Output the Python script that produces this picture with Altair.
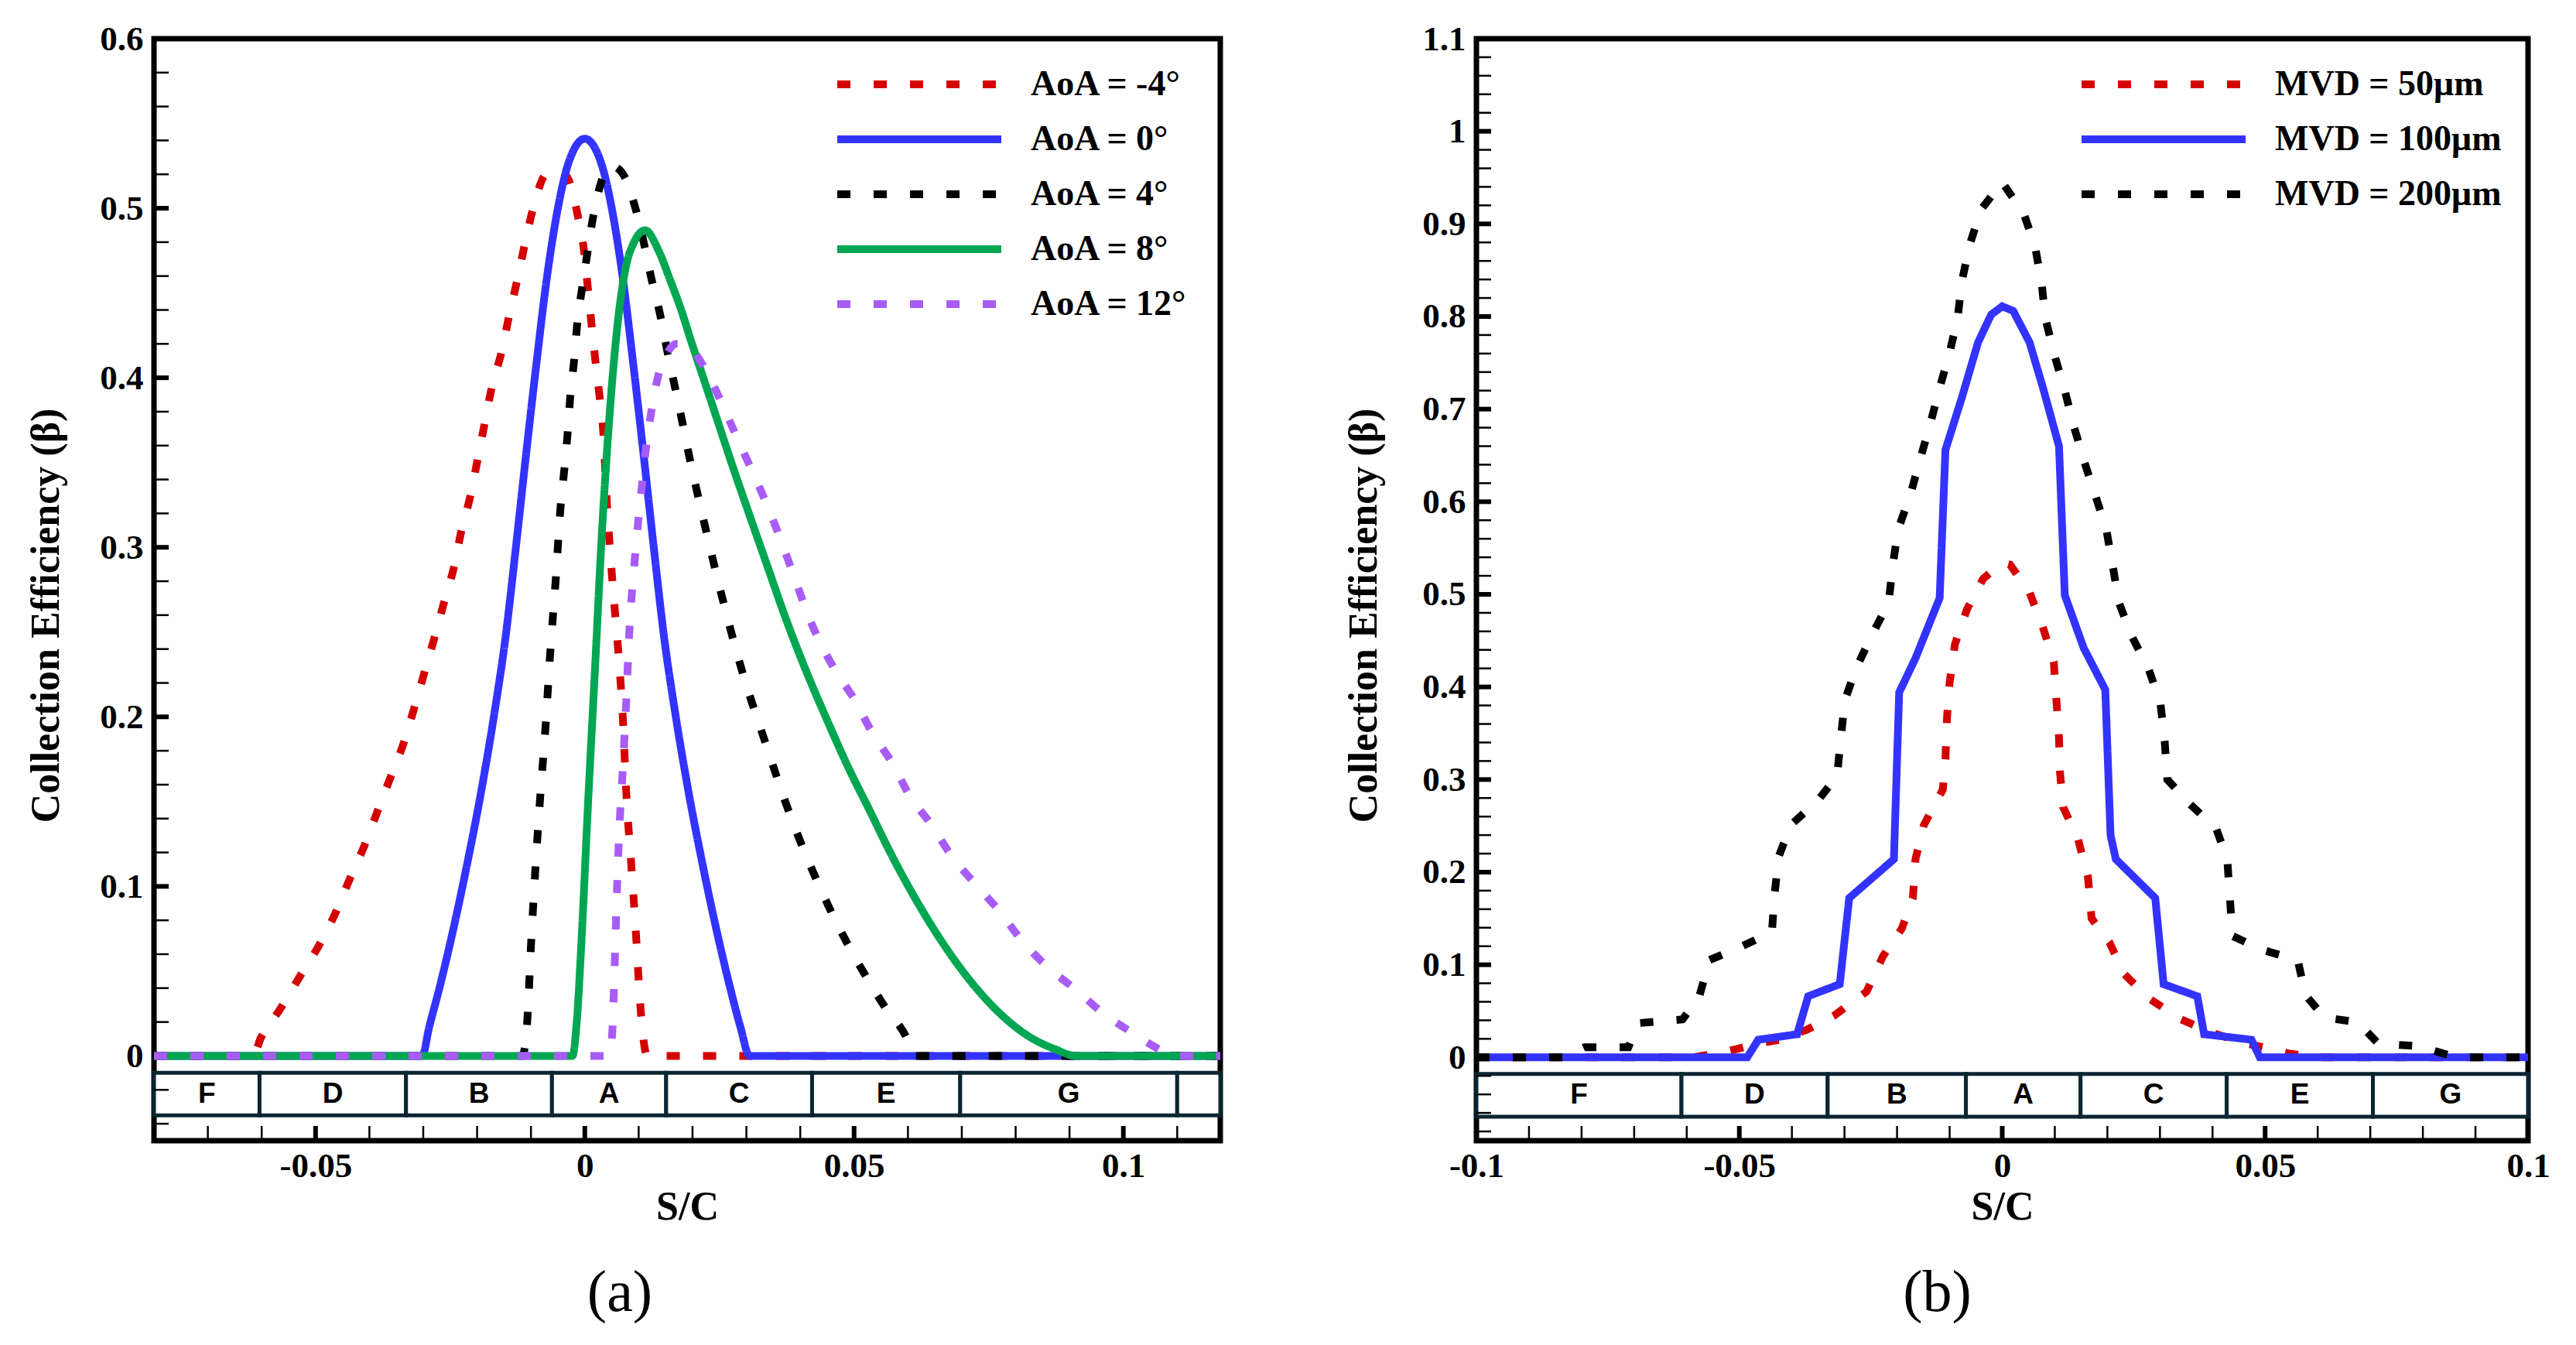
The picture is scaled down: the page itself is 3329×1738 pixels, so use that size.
import altair as alt
import pandas as pd

SERIF = "Liberation Serif"
SANS = "Liberation Sans"
BAND_COLOR = "#0b2632"
DOT = [17, 30]
SOLID = [1, 0]

# ---------------- panel (a): angle of attack ----------------
AOA_NAMES = ["AoA = -4°", "AoA = 0°", "AoA = 4°", "AoA = 8°", "AoA = 12°"]
AOA_COLORS = ["#d40000", "#3333ff", "#000000", "#00a651", "#a85cf6"]
AOA_DASHES = [DOT, SOLID, DOT, SOLID, DOT]

aoa_m4_x = [-0.08, -0.0617, -0.0601, -0.0565, -0.0527, -0.0494, -0.0462, -0.0437, -0.0408, -0.0383,
            -0.0360, -0.0337, -0.0317, -0.0298, -0.0279, -0.0261, -0.0244, -0.0229, -0.0212, -0.0199,
            -0.0186, -0.0173, -0.0154, -0.0141, -0.0126, -0.0112, -0.0096, -0.0073, -0.0052, -0.0032,
            -0.0014, -0.0002, 0.0005, 0.0012, 0.0019, 0.0027, 0.0034, 0.0041, 0.0051, 0.0062,
            0.0071, 0.0077, 0.0086, 0.0095, 0.0103, 0.0116, 0.118]
aoa_m4_y = [0, 0, 0.011, 0.028, 0.048, 0.065, 0.085, 0.104, 0.125, 0.146,
            0.165, 0.184, 0.205, 0.226, 0.247, 0.268, 0.287, 0.310, 0.331, 0.352,
            0.373, 0.394, 0.416, 0.436, 0.457, 0.478, 0.500, 0.520, 0.523, 0.518,
            0.497, 0.476, 0.455, 0.433, 0.412, 0.390, 0.369, 0.326, 0.281, 0.239,
            0.197, 0.155, 0.114, 0.072, 0.030, 0, 0]

aoa_0_x = [-0.08, -0.0302, -0.0289, -0.0270, -0.0244, -0.0218, -0.0193, -0.0167, -0.0148, -0.0128,
           -0.0109, -0.0090, -0.0070, -0.0050, -0.0030, 0.0,
           0.0030, 0.0050, 0.0070, 0.0090, 0.0109, 0.0128, 0.0148, 0.0167, 0.0193, 0.0218,
           0.0244, 0.0270, 0.0289, 0.0306, 0.118]
aoa_0_y = [0, 0, 0.017, 0.040, 0.075, 0.114, 0.155, 0.204, 0.245, 0.300,
           0.355, 0.408, 0.460, 0.500, 0.527, 0.541,
           0.527, 0.500, 0.460, 0.408, 0.355, 0.300, 0.245, 0.204, 0.155, 0.114,
           0.075, 0.040, 0.017, 0, 0]

aoa_4_x = [-0.08, -0.0116, -0.0107, -0.0100, -0.0092, -0.0083, -0.0073, -0.0064, -0.0054, -0.0045,
           -0.0038, -0.0032, -0.0027, -0.0020, -0.0014, -0.0005, 0.0005, 0.0016, 0.0032, 0.0050,
           0.0069, 0.0094, 0.0110, 0.0124, 0.0140, 0.0153, 0.0167, 0.0181, 0.0195, 0.0209,
           0.0225, 0.0257, 0.0293, 0.0334, 0.0379, 0.0430, 0.0488, 0.0520, 0.0559, 0.0597,
           0.0612, 0.118]
aoa_4_y = [0, 0, 0.020, 0.065, 0.109, 0.152, 0.194, 0.239, 0.281, 0.324,
           0.346, 0.367, 0.389, 0.410, 0.432, 0.453, 0.474, 0.496, 0.517, 0.525,
           0.521, 0.500, 0.479, 0.458, 0.437, 0.416, 0.395, 0.374, 0.352, 0.332,
           0.310, 0.268, 0.226, 0.186, 0.144, 0.104, 0.066, 0.048, 0.028, 0.011,
           0, 0]

aoa_8_x = [-0.08, -0.0023, -0.0015, -0.0006, 0.0006, 0.0019, 0.0032, 0.0045, 0.0058, 0.0068,
           0.0078, 0.0090, 0.0112, 0.0137, 0.0158, 0.0179, 0.0197, 0.0220, 0.0243, 0.0270,
           0.0308, 0.0340, 0.0372, 0.0411, 0.0450, 0.0488, 0.0527, 0.0572, 0.0617, 0.0668,
           0.0719, 0.0771, 0.0822, 0.0873, 0.0912, 0.118]
aoa_8_y = [0, 0, 0.020, 0.069, 0.149, 0.229, 0.310, 0.374, 0.423, 0.450,
           0.468, 0.479, 0.487, 0.475, 0.458, 0.440, 0.422, 0.400, 0.378, 0.352,
           0.317, 0.288, 0.259, 0.227, 0.198, 0.171, 0.146, 0.117, 0.091, 0.065,
           0.043, 0.025, 0.012, 0.004, 0, 0]

aoa_12_x = [-0.08, 0.0045, 0.0051, 0.0055, 0.0059, 0.0064, 0.0071, 0.0077, 0.0083, 0.0092,
            0.0100, 0.0107, 0.0113, 0.0124, 0.0137, 0.0152, 0.0170, 0.0190, 0.0220, 0.0250,
            0.0278, 0.0305, 0.0333, 0.0357, 0.0385, 0.0417, 0.0462, 0.0501, 0.0533, 0.0572,
            0.0604, 0.0642, 0.0681, 0.0726, 0.0771, 0.0809, 0.0861, 0.0912, 0.0963, 0.1015,
            0.1066, 0.1092, 0.118]
aoa_12_y = [0, 0, 0.014, 0.049, 0.091, 0.133, 0.172, 0.210, 0.252, 0.290,
            0.318, 0.339, 0.357, 0.381, 0.402, 0.414, 0.420, 0.419, 0.407, 0.388,
            0.368, 0.349, 0.329, 0.310, 0.286, 0.258, 0.229, 0.210, 0.191, 0.172,
            0.153, 0.137, 0.118, 0.101, 0.085, 0.069, 0.052, 0.039, 0.025, 0.014,
            0.004, 0, 0]

A_XMAJOR = [-0.05, 0, 0.05, 0.1]
A_XMINOR = [-0.07, -0.06, -0.04, -0.03, -0.02, -0.01, 0.01, 0.02, 0.03, 0.04,
            0.06, 0.07, 0.08, 0.09, 0.11]
A_YMAJOR = [0, 0.1, 0.2, 0.3, 0.4, 0.5]
A_YMINOR = [-0.04, -0.02, 0.02, 0.04, 0.06, 0.08, 0.12, 0.14, 0.16, 0.18, 0.22, 0.24, 0.26, 0.28,
            0.32, 0.34, 0.36, 0.38, 0.42, 0.44, 0.46, 0.48, 0.52, 0.54, 0.56, 0.58]
A_YLABELS = [0, 0.1, 0.2, 0.3, 0.4, 0.5, 0.6]
A_ZONE_EDGES = [-0.08, -0.0604, -0.0332, -0.0061, 0.0151, 0.0422, 0.0697, 0.1100, 0.118]
A_ZONES = ["F", "D", "B", "A", "C", "E", "G", ""]

# ---------------- panel (b): droplet size ----------------
MVD_NAMES = ["MVD = 50μm", "MVD = 100μm", "MVD = 200μm"]
MVD_COLORS = ["#d40000", "#3333ff", "#000000"]
MVD_DASHES = [DOT, SOLID, DOT]

mvd50_x = [-0.1, -0.0588, -0.0546, -0.0505, -0.0464, -0.0423, -0.0371, -0.0320, -0.0258, -0.0227,
           -0.0191, -0.0170, -0.0165, -0.0149, -0.0113, -0.0108, -0.0105, -0.0100, -0.0090, -0.0067,
           -0.0036, 0.0, 0.0015, 0.0052, 0.0077, 0.0098, 0.0103, 0.0108, 0.0110, 0.0116,
           0.0144, 0.0163, 0.0170, 0.0204, 0.0232, 0.0278, 0.0340, 0.0402, 0.0464, 0.0495,
           0.0546, 0.0600, 0.1]
mvd50_y = [0, 0, 0.004, 0.009, 0.015, 0.019, 0.030, 0.045, 0.071, 0.109,
           0.139, 0.172, 0.214, 0.251, 0.289, 0.322, 0.367, 0.405, 0.446, 0.484,
           0.517, 0.534, 0.532, 0.502, 0.465, 0.427, 0.386, 0.345, 0.307, 0.270,
           0.236, 0.195, 0.150, 0.124, 0.090, 0.064, 0.041, 0.026, 0.015, 0.011,
           0.004, 0, 0]

mvd100_x = [-0.1, -0.0485, -0.0464, -0.0390, -0.0369, -0.0309, -0.0291, -0.0206, -0.0196, -0.0165,
            -0.0119, -0.0108, -0.0077, -0.0046, -0.0021, 0.0, 0.0021, 0.0052, 0.0077, 0.0108,
            0.0119, 0.0155, 0.0196, 0.0206, 0.0216, 0.0291, 0.0307, 0.0371, 0.0384, 0.0474,
            0.0490, 0.1]
mvd100_y = [0, 0, 0.019, 0.025, 0.066, 0.079, 0.172, 0.214, 0.394, 0.431,
            0.496, 0.656, 0.712, 0.772, 0.802, 0.811, 0.806, 0.772, 0.724, 0.660,
            0.499, 0.442, 0.397, 0.240, 0.214, 0.172, 0.079, 0.066, 0.025, 0.019,
            0, 0]

mvd200_x = [-0.1, -0.0835, -0.0794, -0.0711, -0.0691, -0.0608, -0.0577, -0.0557, -0.0495, -0.0438,
            -0.0433, -0.0425, -0.0402, -0.0351, -0.0314, -0.0307, -0.0299, -0.0278, -0.0247, -0.0216,
            -0.0208, -0.0198, -0.0175, -0.0155, -0.0136, -0.0119, -0.0100, -0.0085, -0.0076, -0.0062,
            -0.0041, 0.0, 0.0041, 0.0062, 0.0075, 0.0082, 0.0100, 0.0119, 0.0136, 0.0155,
            0.0177, 0.0198, 0.0211, 0.0222, 0.0247, 0.0278, 0.0301, 0.0309, 0.0314, 0.0356,
            0.0407, 0.0428, 0.0433, 0.0438, 0.0495, 0.0562, 0.0577, 0.0613, 0.0676, 0.0715,
            0.0793, 0.0863, 0.1]
mvd200_y = [0, 0, 0.011, 0.011, 0.037, 0.041, 0.064, 0.105, 0.120, 0.135,
            0.176, 0.217, 0.251, 0.277, 0.304, 0.345, 0.386, 0.420, 0.457, 0.491,
            0.532, 0.570, 0.607, 0.648, 0.686, 0.723, 0.761, 0.798, 0.840, 0.877,
            0.915, 0.945, 0.911, 0.877, 0.836, 0.798, 0.757, 0.720, 0.682, 0.645,
            0.607, 0.570, 0.528, 0.491, 0.454, 0.420, 0.382, 0.341, 0.300, 0.274,
            0.247, 0.214, 0.172, 0.131, 0.116, 0.105, 0.067, 0.043, 0.038, 0.015,
            0.012, 0, 0]

B_XMAJOR = [-0.05, 0, 0.05]
B_XMINOR = [-0.09, -0.08, -0.07, -0.06, -0.04, -0.03, -0.02, -0.01, 0.01, 0.02, 0.03, 0.04,
            0.06, 0.07, 0.08, 0.09]
B_XLABELS = [-0.1, -0.05, 0, 0.05, 0.1]
B_YMAJOR = [0, 0.1, 0.2, 0.3, 0.4, 0.5, 0.6, 0.7, 0.8, 0.9, 1.0]
B_YMINOR = [-0.08, -0.06, -0.04, -0.02, 0.02, 0.04, 0.06, 0.08, 0.12, 0.14, 0.16, 0.18,
            0.22, 0.24, 0.26, 0.28, 0.32, 0.34, 0.36, 0.38, 0.42, 0.44, 0.46, 0.48,
            0.52, 0.54, 0.56, 0.58, 0.62, 0.64, 0.66, 0.68, 0.72, 0.74, 0.76, 0.78,
            0.82, 0.84, 0.86, 0.88, 0.92, 0.94, 0.96, 0.98, 1.02, 1.04, 1.06, 1.08]
B_YLABELS = [0, 0.1, 0.2, 0.3, 0.4, 0.5, 0.6, 0.7, 0.8, 0.9, 1.0, 1.1]
B_ZONE_EDGES = [-0.1, -0.0610, -0.0332, -0.0069, 0.0149, 0.0427, 0.0705, 0.1]
B_ZONES = ["F", "D", "B", "A", "C", "E", "G"]


def long_df(field, names, xs, ys):
    rows = []
    for n, xv, yv in zip(names, xs, ys, strict=True):
        for a, b in zip(xv, yv, strict=True):
            rows.append({"sc": a, "beta": b, field: n})
    return pd.DataFrame(rows)


def zones_df(edges, names):
    return pd.DataFrame({
        "x0": edges[:-1],
        "x1": edges[1:],
        "xm": [(a + b) / 2 for a, b in zip(edges[:-1], edges[1:])],
        "zone": names,
    })


HYPHEN = "replace(datum.label, '\u2212', '-')"


def panel(df, field, names, colors, dashes, xdom, ydom, xlabels, ylabels,
          xmaj, xmin, ymaj, ymin, zdf, band_top, band_bot, W, H,
          leg_x, ytitle_x, ytitle_y, caption, cap_dx, interp):
    xs = alt.Scale(domain=xdom, nice=False, zero=False)
    ys = alt.Scale(domain=ydom, nice=False, zero=False)

    xax = alt.Axis(
        values=xlabels, format="~g", labelExpr=HYPHEN, title="S/C",
        titleY=85, titleBaseline="middle", labelPadding=10, labelFlush=False,
        labelOverlap=False, labelFont=SERIF, labelFontSize=45, labelFontWeight="bold",
        labelColor="black", titleFont=SERIF, titleFontSize=52, titleFontWeight="bold",
        titleColor="black", ticks=False, domain=False, grid=False)
    yax = alt.Axis(
        values=ylabels, format="~g", labelExpr=HYPHEN,
        title="Collection Efficiency (β)", titleAngle=270, titleX=ytitle_x, titleY=ytitle_y,
        titleBaseline="middle", titleAlign="center", labelPadding=14,
        labelOverlap=False, labelFont=SERIF, labelFontSize=45, labelFontWeight="bold",
        labelColor="black", titleFont=SERIF, titleFontSize=52, titleFontWeight="bold",
        titleColor="black", ticks=False, domain=False, grid=False)

    leg = alt.Legend(title=None, orient="none", legendX=leg_x, legendY=37, direction="vertical",
                     symbolType="stroke", symbolSize=44944, symbolStrokeWidth=10,
                     clipHeight=44, rowPadding=25, labelOffset=33, padding=0,
                     labelFont=SERIF, labelFontSize=46, labelFontWeight="bold",
                     labelColor="black", labelLimit=2000)

    band = alt.Chart(zdf).mark_rect(fill="white", stroke=BAND_COLOR, strokeWidth=5).encode(
        x=alt.X("x0:Q", scale=xs, axis=xax), x2="x1:Q",
        y=alt.YDatum(band_top, type="quantitative", scale=ys, axis=yax),
        y2=alt.Y2Datum(band_bot))
    letters = alt.Chart(zdf).mark_text(font=SANS, fontWeight="bold", fontSize=37,
                                       color="black", baseline="middle", align="center").encode(
        x=alt.X("xm:Q", scale=xs, axis=xax),
        y=alt.YDatum((band_top + band_bot) / 2, type="quantitative", scale=ys, axis=yax),
        text="zone:N")

    def yt(vals, w):
        return alt.Chart(pd.DataFrame({"v": vals})).mark_rule(color="black", strokeWidth=w).encode(
            y=alt.Y("v:Q", scale=ys, axis=yax), x=alt.value(0), x2=alt.value(19))

    def xt(vals, w):
        return alt.Chart(pd.DataFrame({"v": vals})).mark_rule(color="black", strokeWidth=w).encode(
            x=alt.X("v:Q", scale=xs, axis=xax), y=alt.value(H), y2=alt.value(H - 19))

    lines = alt.Chart(df).mark_line(strokeWidth=10, strokeCap="butt", interpolate=interp).encode(
        x=alt.X("sc:Q", scale=xs, axis=xax),
        y=alt.Y("beta:Q", scale=ys, axis=yax),
        color=alt.Color(f"{field}:N", scale=alt.Scale(domain=names, range=colors), legend=leg),
        strokeDash=alt.StrokeDash(f"{field}:N", scale=alt.Scale(domain=names, range=dashes),
                                  legend=leg),
    )

    return alt.layer(band, letters, yt(ymin, 2.5), yt(ymaj, 6), xt(xmin, 2.5), xt(xmaj, 6),
                     lines).properties(
        width=W, height=H,
        title=alt.TitleParams(text=caption, orient="bottom", anchor="middle", frame="group",
                              font=SERIF, fontSize=76, fontWeight="normal", color="black",
                              offset=49, dx=cap_dx))


df_a = long_df("AoA", AOA_NAMES, [aoa_m4_x, aoa_0_x, aoa_4_x, aoa_8_x, aoa_12_x],
               [aoa_m4_y, aoa_0_y, aoa_4_y, aoa_8_y, aoa_12_y])
df_b = long_df("MVD", MVD_NAMES, [mvd50_x, mvd100_x, mvd200_x], [mvd50_y, mvd100_y, mvd200_y])

pa = panel(df_a, "AoA", AOA_NAMES, AOA_COLORS, AOA_DASHES, [-0.08, 0.118], [-0.05, 0.6],
           A_XMAJOR, A_YLABELS, A_XMAJOR, A_XMINOR, A_YMAJOR, A_YMINOR,
           zones_df(A_ZONE_EDGES, A_ZONES), -0.01, -0.035, 1378, 1424,
           878, -140, 745, "(a)", -87, "monotone")
pb = panel(df_b, "MVD", MVD_NAMES, MVD_COLORS, MVD_DASHES, [-0.1, 0.1], [-0.09, 1.1],
           B_XLABELS, B_YLABELS, B_XMAJOR, B_XMINOR, B_YMAJOR, B_YMINOR,
           zones_df(B_ZONE_EDGES, B_ZONES), -0.018, -0.064, 1359, 1424,
           777, -146, 745, "(b)", -84, "linear")

chart = alt.hconcat(pa, pb, spacing=331, bounds="flush").resolve_scale(
    x="independent", y="independent", color="independent", strokeDash="independent"
).resolve_legend(color="independent", strokeDash="independent").configure_view(
    stroke="black", strokeWidth=7
).properties(padding={"left": 21, "top": 16, "right": 5, "bottom": 2}, background="white")

chart.save("out.html", embed_options={"renderer": "svg", "actions": False})
